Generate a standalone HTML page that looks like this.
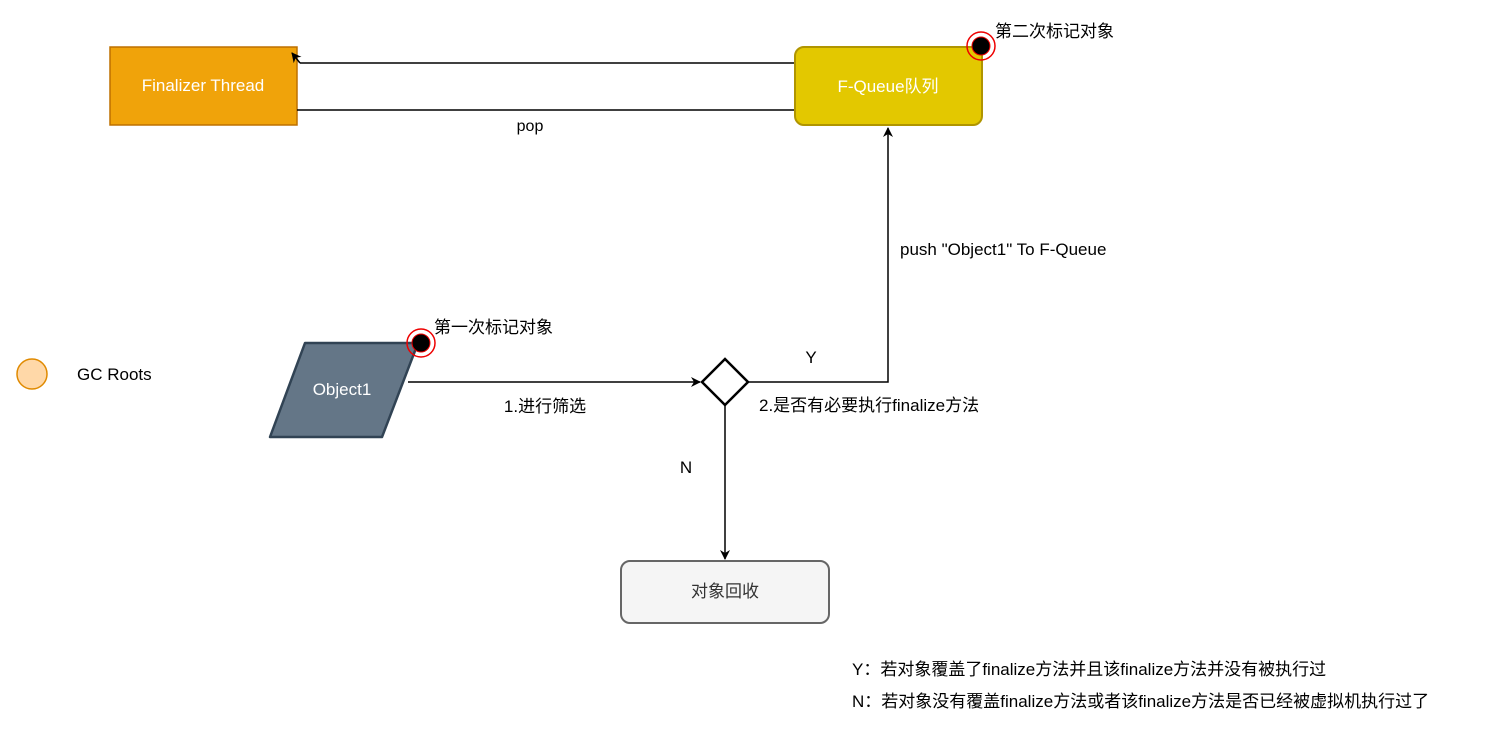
<!DOCTYPE html>
<html><head><meta charset="utf-8"><style>
html,body{margin:0;padding:0;background:#fff;width:1512px;height:733px;overflow:hidden}
svg text{font-family:"Liberation Sans","Noto Sans CJK SC",sans-serif}
</style></head><body>
<svg width="1512" height="733" viewBox="0 0 1512 733" xmlns="http://www.w3.org/2000/svg">
<defs><marker id="a" markerWidth="10" markerHeight="10" refX="9" refY="5" orient="auto" markerUnits="userSpaceOnUse"><path d="M0,0 L10,5 L0,10 L3,5 Z" fill="#000"/></marker></defs>
<!-- Finalizer Thread -->
<rect x="110" y="47" width="187" height="78" fill="#f0a30a" stroke="#bd7000" stroke-width="1.5"/>
<text x="203" y="91" fill="#fff" font-size="17" text-anchor="middle">Finalizer Thread</text>
<!-- pop connector -->
<path d="M795,63 L300,63" stroke="#000" stroke-width="1.5" fill="none"/>
<path d="M300,63 L292,53" stroke="#000" stroke-width="1.5" fill="none" marker-end="url(#a)"/>
<path d="M297,110 L795,110 L795,63" stroke="#000" stroke-width="1.5" fill="none"/>
<text x="530" y="131" font-size="16" text-anchor="middle">pop</text>
<!-- F-Queue -->
<rect x="795" y="47" width="187" height="78" rx="9" fill="#e3c800" stroke="#b09500" stroke-width="2"/>
<text x="888" y="92" fill="#fff" font-size="17" text-anchor="middle">F-Queue队列</text>
<circle cx="981" cy="46" r="14" fill="none" stroke="#e00" stroke-width="1.5"/>
<circle cx="981" cy="46" r="9" fill="#000" stroke="#e00" stroke-width="1"/>
<text x="995" y="37" font-size="17">第二次标记对象</text>
<!-- GC Roots -->
<circle cx="32" cy="374" r="15" fill="#ffd8a8" stroke="#e08a00" stroke-width="1.5"/>
<text x="77" y="380" font-size="17">GC Roots</text>
<!-- Object1 -->
<path d="M305,343 L418,343 L382,437 L270,437 Z" fill="#647687" stroke="#314354" stroke-width="2.5" stroke-linejoin="round"/>
<text x="342" y="395" fill="#fff" font-size="17" text-anchor="middle">Object1</text>
<circle cx="421" cy="343" r="14" fill="none" stroke="#e00" stroke-width="1.5"/>
<circle cx="421" cy="343" r="9" fill="#000" stroke="#e00" stroke-width="1"/>
<text x="434" y="333" font-size="17">第一次标记对象</text>
<!-- arrow to diamond -->
<line x1="408" y1="382" x2="700" y2="382" stroke="#000" stroke-width="1.5" marker-end="url(#a)"/>
<text x="545" y="412" font-size="17" text-anchor="middle">1.进行筛选</text>
<!-- diamond -->
<path d="M725,359 L748,382 L725,405 L702,382 Z" fill="#fff" stroke="#000" stroke-width="2.5"/>
<!-- Y path -->
<path d="M748,382 L888,382 L888,128" stroke="#000" stroke-width="1.5" fill="none" marker-end="url(#a)"/>
<text x="811" y="363" font-size="17" text-anchor="middle">Y</text>
<text x="759" y="411" font-size="17">2.是否有必要执行finalize方法</text>
<text x="900" y="255" font-size="17">push "Object1" To F-Queue</text>
<!-- N path -->
<line x1="725" y1="405" x2="725" y2="559" stroke="#000" stroke-width="1.5" marker-end="url(#a)"/>
<text x="686" y="473" font-size="17" text-anchor="middle">N</text>
<!-- recycle -->
<rect x="621" y="561" width="208" height="62" rx="9" fill="#f5f5f5" stroke="#666" stroke-width="2"/>
<text x="725" y="597" font-size="17" text-anchor="middle" fill="#333">对象回收</text>
<!-- notes -->
<text x="852" y="675" font-size="17">Y：若对象覆盖了finalize方法并且该finalize方法并没有被执行过</text>
<text x="852" y="707" font-size="17">N：若对象没有覆盖finalize方法或者该finalize方法是否已经被虚拟机执行过了</text>
</svg>
</body></html>
